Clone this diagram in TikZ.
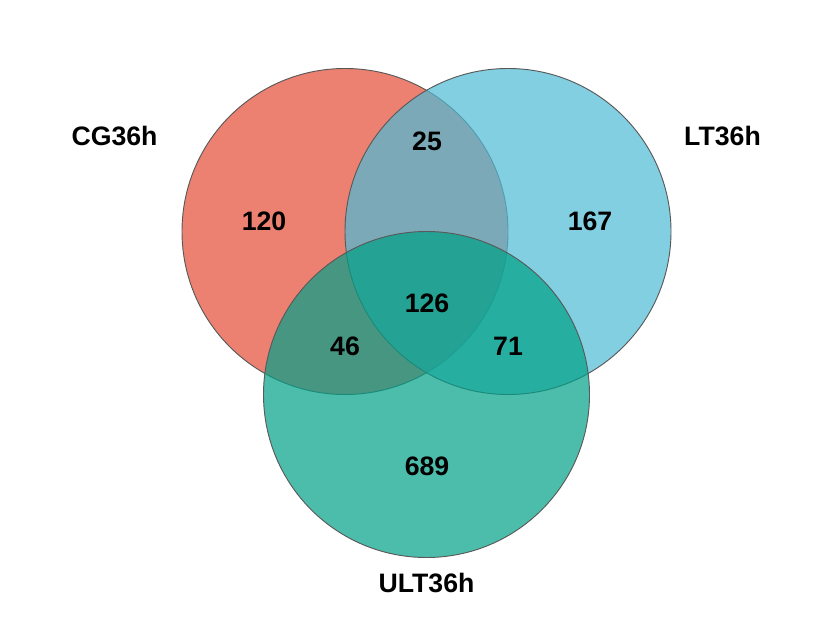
\documentclass[tikz,border=0pt]{standalone}
\usepackage{fontspec}
\setmainfont{Liberation Sans}
\usepackage{xcolor}
\usepackage{tikz}
\usetikzlibrary{positioning}
\definecolor{SetRed}{HTML}{E64B35}
\definecolor{SetBlue}{HTML}{4DBBD5}
\definecolor{SetGreen}{HTML}{00A087}
\tikzset{
    setcircle/.style={circle, minimum size=244.5pt, inner sep=0pt, outer sep=0pt,
        draw=black!65, line width=0.7pt, fill opacity=0.7},
    countlabel/.style={font=\fontsize{20}{24}\selectfont\bfseries, inner sep=0pt},
    setlabel/.style={font=\fontsize{20}{24}\selectfont\bfseries, inner sep=0pt},
}

\begin{document}
\begin{tikzpicture}[x=0.75pt, y=-0.75pt]
    \useasboundingbox (0,0) rectangle (830,623);
    % three sets
    \node[setcircle, fill=SetRed] (cg) at (345,231.5) {};
    \node[setcircle, fill=SetBlue] (lt) at (508,231.5) {};
    \node[setcircle, fill=SetGreen] (ult) at (426.5,394.5) {};

    % set names
    \node[setlabel] (cgname) at (114.5,136) {CG36h};
    \node[setlabel] (ltname) at (722.5,136) {LT36h};
    \node[setlabel] (ultname) at (426.5,583) {ULT36h};

    % region counts
    \node[countlabel] (onlycg) at (264,221) {120};
    \node[countlabel] (cglt) at (427,141) {25};
    \node[countlabel] (onlylt) at (590,221) {167};
    \node[countlabel] (all) at (427,303) {126};
    \node[countlabel] (cgult) at (345,346) {46};
    \node[countlabel] (ltult) at (508,346) {71};
    \node[countlabel] (onlyult) at (427,466) {689};
\end{tikzpicture}
\end{document}
